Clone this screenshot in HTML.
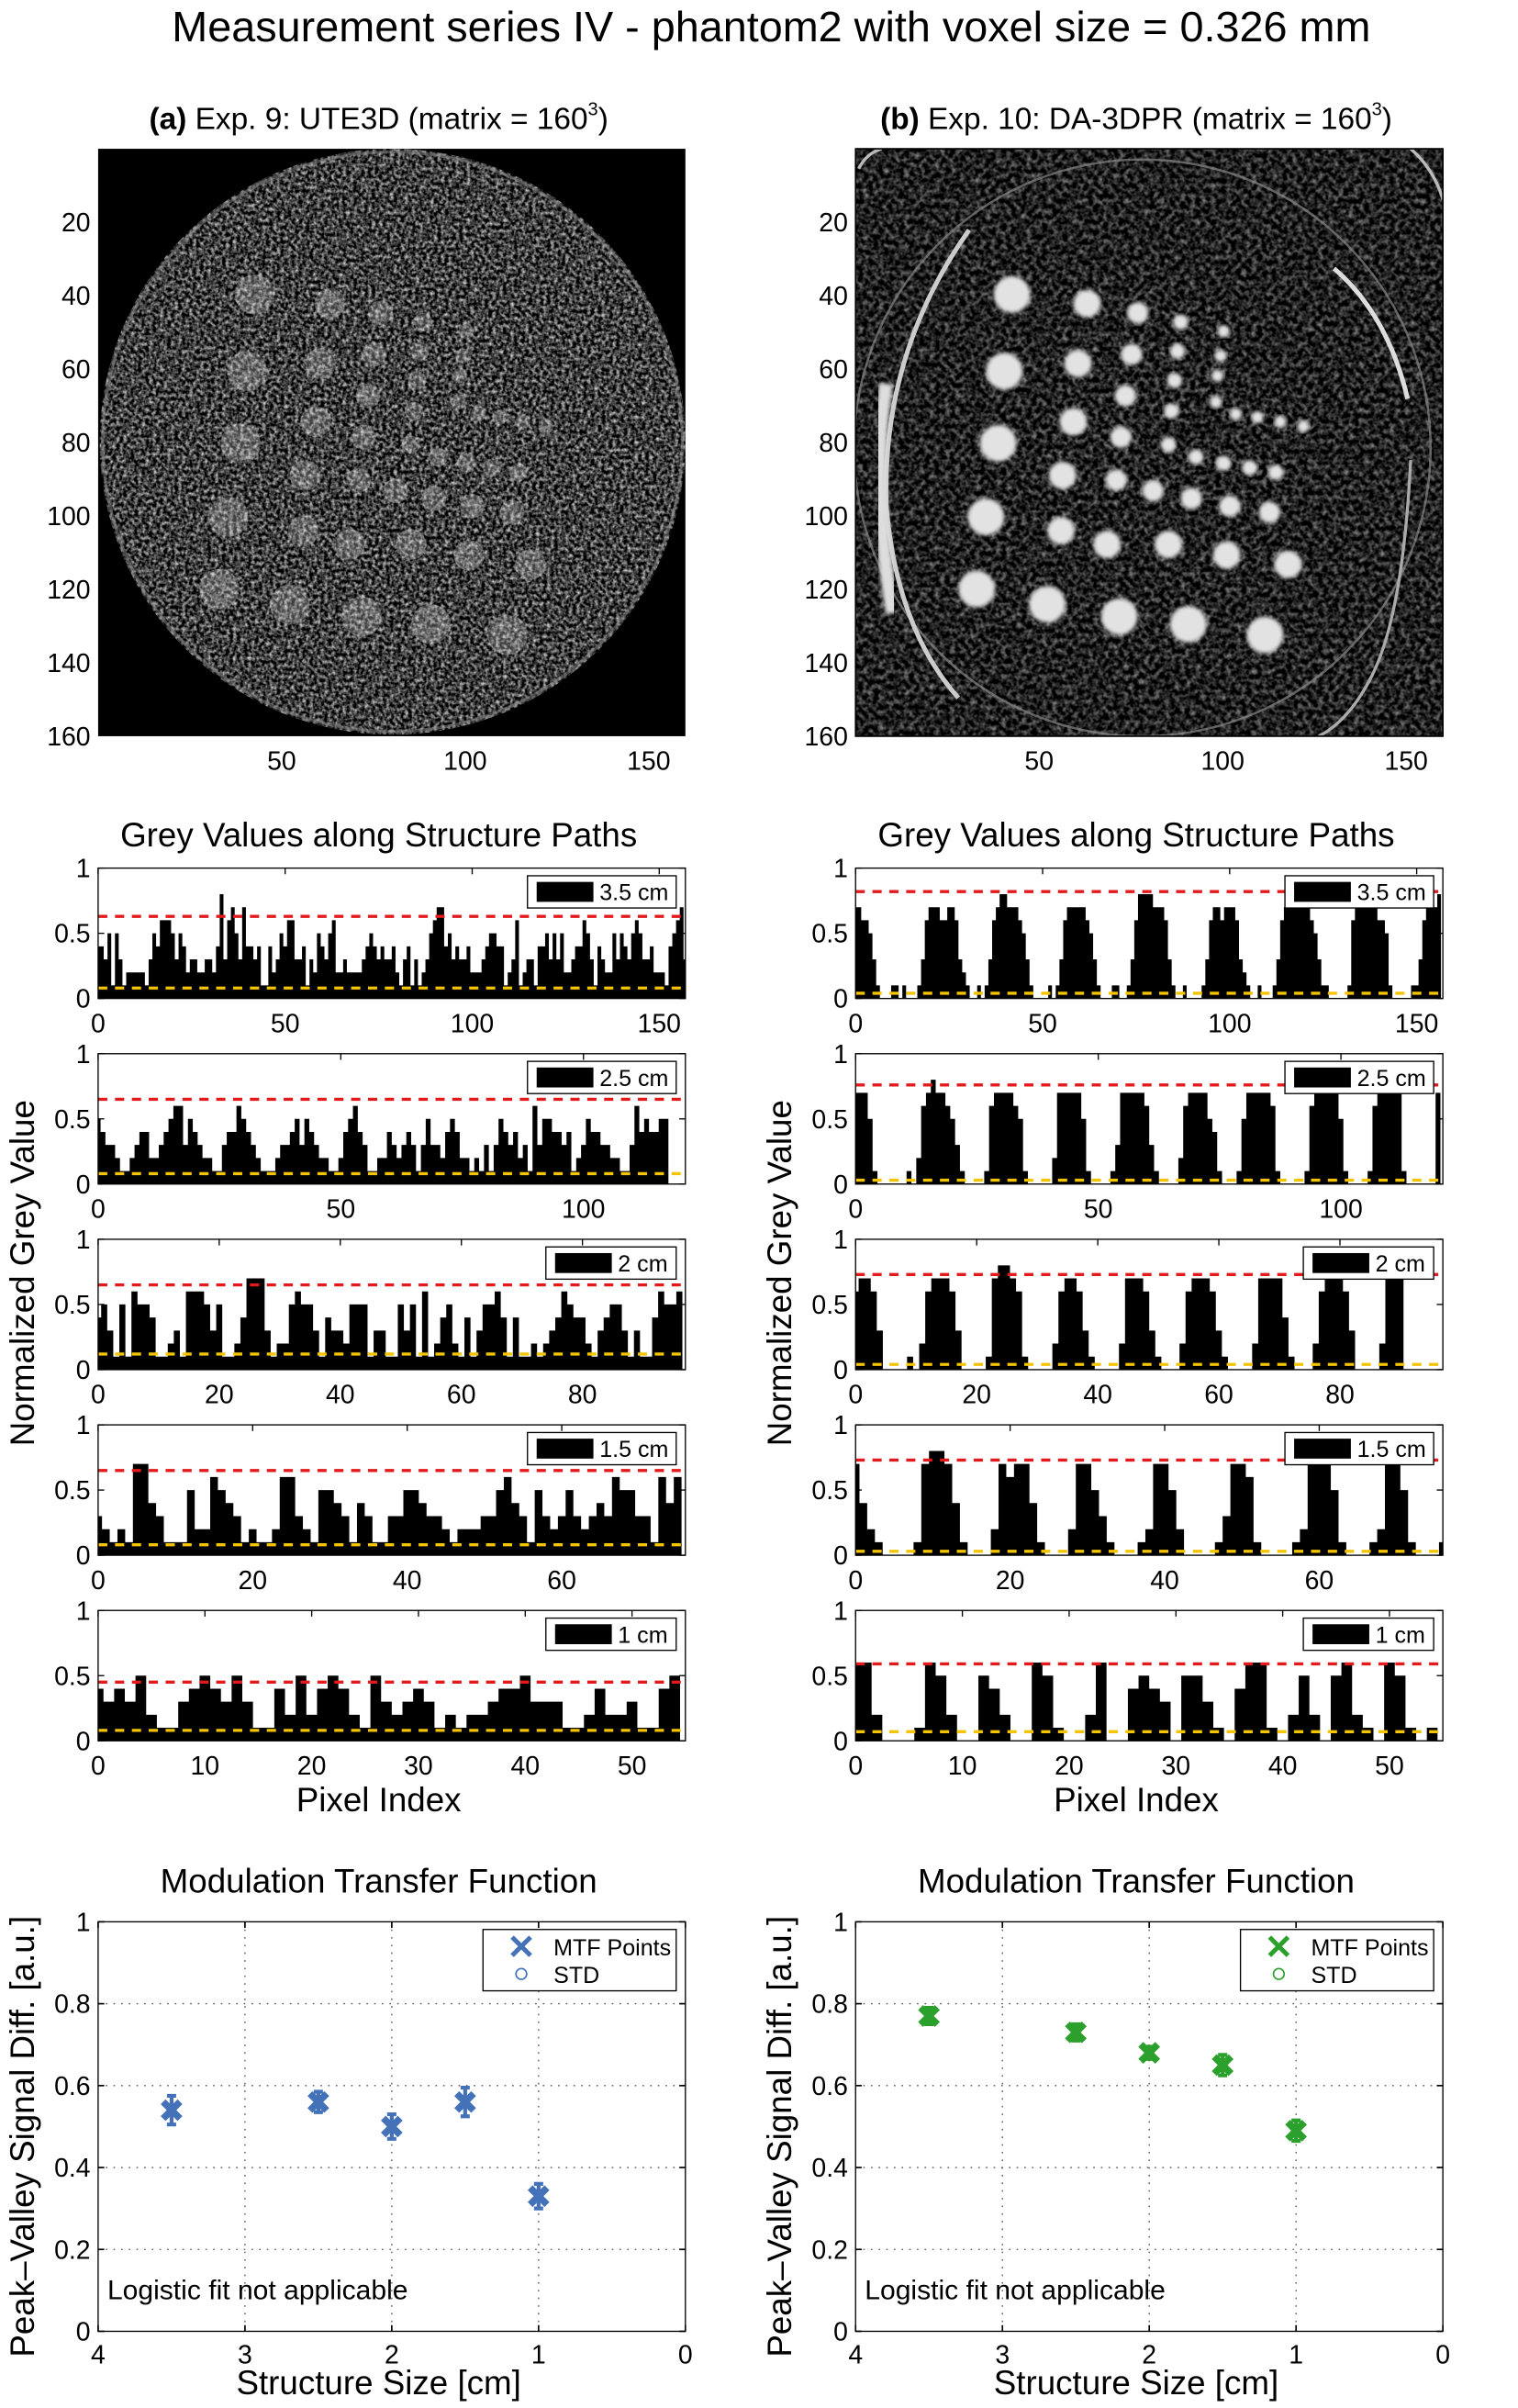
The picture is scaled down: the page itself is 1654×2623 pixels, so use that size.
<!DOCTYPE html>
<html><head><meta charset="utf-8">
<style>
html,body{margin:0;padding:0;background:#fff;}
svg{display:block;font-family:"Liberation Sans",sans-serif;}
</style></head>
<body>
<svg id="fig" xmlns="http://www.w3.org/2000/svg" width="1654" height="2623" viewBox="0 0 990 1570">
<defs>
<filter id="noiseA" x="0" y="0" width="100%" height="100%" color-interpolation-filters="sRGB">
<feTurbulence type="fractalNoise" baseFrequency="0.42" numOctaves="2" seed="3"/>
<feColorMatrix type="matrix" values="1.5 0 0 0 -0.5  1.5 0 0 0 -0.5  1.5 0 0 0 -0.5  0 0 0 0 1"/>
</filter>
<filter id="noiseB" x="0" y="0" width="100%" height="100%" color-interpolation-filters="sRGB">
<feTurbulence type="fractalNoise" baseFrequency="0.3" numOctaves="2" seed="7"/>
<feColorMatrix type="matrix" values="1.0 0 0 0 -0.37  1.0 0 0 0 -0.37  1.0 0 0 0 -0.37  0 0 0 0 1"/>
</filter>
<filter id="blur1"><feGaussianBlur stdDeviation="1.2"/></filter>
<clipPath id="discA"><circle cx="256" cy="288" r="191"/></clipPath>
<clipPath id="imgB"><rect x="558" y="97" width="383" height="383"/></clipPath>
</defs>
<text x="503" y="27" font-size="28" text-anchor="middle">Measurement series IV - phantom2 with voxel size = 0.326 mm</text>
<g id="root"></g>
</svg>
<script>
// ---------- data ----------
const gvCategories = ["3.5 cm","2.5 cm","2 cm","1.5 cm","1 cm"];
const gvXMax = [157,121,97,76,55];
const gvTicks = [[0,50,100,150],[0,50,100],[0,20,40,60,80],[0,20,40,60],[0,10,20,30,40,50]];
const leftValues = [
"4435153122222135466653542332233248367537443411423546633413254356223222234543433421341312356774534334222345544123612331445353522344653143225354356533422214567354534",
"5433211234422345663543221134465432111233453543221124564311224323431353324542212131354342316355443412354433221136454455",
"4531516554112316665351124777312256553143325551331153516124521413556414112123465442134553131146556",
"3212177431115226543121126632155431431133554332122233564315323532343655331646",
"4343521134543531142524542153234312122344533311242231145"];
const rightValues = [
"7766531000110100013677766776321001013678877765310000101367777765310001100136888877763100100001367767776321001000136777777765311000001677777766510000011367778",
"7775100000010267877653100001677776510000027777751000013777776310000267777541000157777761000001677777510000167777710000007",
"6776300001026777630000178876100002677631000027776310002677763100002777741000267776300002777",
"7421000017887410002767741000277531000127752000013776100001277751000127751000172",
"6620001652005420065100260045430553104661025205621065101"];
const redLeft = [0.63,0.65,0.65,0.65,0.45];
const yelLeft = [0.08,0.08,0.12,0.08,0.08];
const redRight = [0.82,0.76,0.73,0.73,0.59];
const yelRight = [0.04,0.03,0.04,0.03,0.07];
const mtfSizes = [3.5,2.5,2,1.5,1];
const mtfLeft = [0.54,0.56,0.50,0.56,0.33];
const mtfLeftStd = [0.035,0.025,0.03,0.035,0.03];
const mtfRight = [0.77,0.73,0.68,0.65,0.49];
const mtfRightStd = [0.02,0.02,0.015,0.025,0.025];
const imgTicksY = [20,40,60,80,100,120,140,160];
const imgTicksX = [50,100,150];
const mtfYTicks = [0,0.2,0.4,0.6,0.8,1];
const mtfXTicks = [4,3,2,1,0];

const NS="http://www.w3.org/2000/svg";
const root=document.getElementById('root');
function mk(tag,attrs,parent,txt){const e=document.createElementNS(NS,tag);for(const k in attrs)e.setAttribute(k,attrs[k]);if(txt!==undefined)e.textContent=txt;(parent||root).appendChild(e);return e;}

// ---------- images ----------
function imageAxes(x0,title,side){
  const g=mk('g',{});
  
  
  const sc=383/160;
  const t=mk('text',{x:x0+183,y:84,'font-size':20,'text-anchor':'middle'},g);
  t.innerHTML=title;
  
  
  imgTicksY.forEach(v=>{const l=mk('text',{x:x0-5,y:97+v*sc+6,'font-size':17,'text-anchor':'end'},g,String(v));
    });
  imgTicksX.forEach(v=>{const l=mk('text',{x:x0+v*sc,y:502,'font-size':17,'text-anchor':'middle'},g,String(v));
    });
  return g;
}
const spotsX=[660,655,651,643,637,683,730,775,825, 709,703,700,693,692,722,762,800,840, 742,738,734,731,728,752,777,802,828, 770,768,766,764,762,780,798,815,832, 798,796,794,793,806,820,835,850];
const spotsY=[192,242,289,337,384,394,402,407,414, 198,237,275,310,346,355,355,362,368, 204,231,258,285,313,320,325,330,334, 210,229,248,268,290,298,302,305,308, 216,232,245,262,270,272,275,278];
const spotsR=[12,12,12,12,12,12,12,12,12, 9,9,9,9,9,9,9,9,9, 7,7,7,7,7,7,7,7,7, 5,5,5,5,5,5,5,5,5, 4,4,4,4,4,4,4,4];
// left image
{
  const g=imageAxes(64,'<tspan font-weight="bold">(a)</tspan> Exp. 9: UTE3D (matrix = 160<tspan font-size="12" dy="-9">3</tspan><tspan dy="9">)</tspan>','a');
  const r=mk('rect',{x:64,y:97,width:383,height:383,fill:'#000'},g);
  
  const n=mk('rect',{x:64,y:97,width:383,height:383,filter:'url(#noiseA)','clip-path':'url(#discA)'},g);
  
  mk('circle',{cx:256,cy:288,r:189,fill:'none',stroke:'#888','stroke-width':2,opacity:0.5},g);
  spotsX.forEach((x,i)=>{const c=mk('circle',{cx:x-494,cy:spotsY[i],r:spotsR[i]+1,fill:'#fff',opacity:0.25},g);
    });
}
// right image
{
  const g=imageAxes(558,'<tspan font-weight="bold">(b)</tspan> Exp. 10: DA-3DPR (matrix = 160<tspan font-size="12" dy="-9">3</tspan><tspan dy="9">)</tspan>','b');
  const n=mk('rect',{x:558,y:97,width:383,height:383,filter:'url(#noiseB)'},g);
  
  const cg=mk('g',{'clip-path':'url(#imgB)'},g);
  mk('circle',{cx:745,cy:292,r:188,fill:'none',stroke:'#888','stroke-width':1.5,opacity:0.7},cg);
  mk('path',{d:'M632,150 Q575,230 578,330 Q585,410 625,455',fill:'none',stroke:'#ccc','stroke-width':3},cg);
  mk('path',{d:'M578,250 Q568,310 582,400',fill:'none',stroke:'#ddd','stroke-width':9,filter:'url(#blur1)'},cg);
  mk('path',{d:'M870,175 Q905,205 918,260',fill:'none',stroke:'#ddd','stroke-width':3},cg);
  mk('path',{d:'M920,300 Q915,400 895,440 Q880,470 860,480',fill:'none',stroke:'#aaa','stroke-width':2},cg);
  mk('path',{d:'M560,110 Q565,100 575,97',fill:'none',stroke:'#bbb','stroke-width':2},cg);
  mk('path',{d:'M920,97 Q935,110 941,130',fill:'none',stroke:'#bbb','stroke-width':2},cg);
  spotsX.forEach((x,i)=>{const c=mk('circle',{cx:x,cy:spotsY[i],r:spotsR[i],fill:'#e2e2e2',filter:'url(#blur1)'},cg);
    });
  mk('rect',{x:558,y:97,width:383,height:383,fill:'none',stroke:'#000','stroke-width':1},g);
}

// ---------- grey value panels ----------
const panelTops=[566,687,808,929,1050];
function barPanel(x0,idx,vals,red,yel,side){
  const x1=x0+383, yt=panelTops[idx], yb=yt+85;
  const xmax=gvXMax[idx];
  const sx=v=>x0+v/xmax*383, sy=v=>yb-v*85;
  const g=mk('g',{});
  
  
  const arr=vals.split('').map(c=>+c/10);
  let d='';
  arr.forEach((v,i)=>{if(i>xmax)return;const a=Math.max(x0,sx(i-0.5)),b=Math.min(x1,sx(i+0.5));d+=`M${a},${yb}V${sy(v)}H${b}V${yb}Z`;});
  const bars=mk('path',{d:d,fill:'#000'},g);
  
  const rl=mk('line',{x1:x0,x2:x1,y1:sy(red),y2:sy(red),stroke:'#e31a1c','stroke-width':2,'stroke-dasharray':'6,5'},g);
  
  const yl=mk('line',{x1:x0,x2:x1,y1:sy(yel),y2:sy(yel),stroke:'#f5c400','stroke-width':2,'stroke-dasharray':'6,5'},g);
  
  mk('rect',{x:x0,y:yt,width:383,height:85,fill:'none',stroke:'#000','stroke-width':0.8},g);
  [0,0.5,1].forEach(v=>{const t=mk('text',{x:x0-5,y:sy(v)+6,'font-size':17,'text-anchor':'end'},g,String(v));
    
    mk('line',{x1:x0,x2:x0+4,y1:sy(v),y2:sy(v),stroke:'#000','stroke-width':0.8},g);
    mk('line',{x1:x1,x2:x1-4,y1:sy(v),y2:sy(v),stroke:'#000','stroke-width':0.8},g);});
  gvTicks[idx].forEach(v=>{const t=mk('text',{x:sx(v),y:yb+22,'font-size':17,'text-anchor':'middle'},g,String(v));
    
    mk('line',{x1:sx(v),x2:sx(v),y1:yt,y2:yt+4,stroke:'#000','stroke-width':0.8},g);});
  const lab=gvCategories[idx];
  const w=lab.length>4?97:85;
  const lg=mk('g',{},g);
  
  mk('rect',{x:x1-6-w,y:yt+5,width:w,height:21,fill:'#fff',stroke:'#000','stroke-width':0.8},lg);
  mk('rect',{x:x1-6-w+6,y:yt+9,width:37,height:13,fill:'#000'},lg);
  mk('text',{x:x1-6-w+47,y:yt+21,'font-size':15},lg,lab);
}
[[64,leftValues,redLeft,yelLeft,'left'],[558,rightValues,redRight,yelRight,'right']].forEach(([x0,vals,red,yel,side])=>{
  const t=mk('text',{x:x0+183,y:552,'font-size':22,'text-anchor':'middle'},root,'Grey Values along Structure Paths');
  
  for(let i=0;i<5;i++)barPanel(x0,i,vals[i],red[i],yel[i],side);
  const xl=mk('text',{x:x0+183,y:1181,'font-size':22,'text-anchor':'middle'},root,'Pixel Index');
  
  const yl=mk('text',{x:0,y:0,'font-size':22,'text-anchor':'middle',transform:`translate(${x0-42},830) rotate(-90)`},root,'Normalized Grey Value');
  
});

// ---------- MTF ----------
function xMarker(g,x,y,s,col,w){mk('path',{d:`M${x-s},${y-s}L${x+s},${y+s}M${x-s},${y+s}L${x+s},${y-s}`,stroke:col,'stroke-width':w,fill:'none'},g);}
function mtfPanel(x0,vals,stds,col,side){
  const x1=x0+383, yt=1253, yb=1520;
  const sx=v=>x0+(4-v)/4*383, sy=v=>yb-v*(yb-yt);
  const g=mk('g',{});
  
  const t=mk('text',{x:x0+183,y:1234,'font-size':22,'text-anchor':'middle'},g,'Modulation Transfer Function');
  
  mtfYTicks.forEach(v=>{if(v>0&&v<1)mk('line',{x1:x0,x2:x1,y1:sy(v),y2:sy(v),stroke:'#555','stroke-width':0.8,'stroke-dasharray':'1,4'},g);
    mk('line',{x1:x0,x2:x0+4,y1:sy(v),y2:sy(v),stroke:'#000'},g);mk('line',{x1:x1,x2:x1-4,y1:sy(v),y2:sy(v),stroke:'#000'},g);
    const l=mk('text',{x:x0-5,y:sy(v)+6,'font-size':17,'text-anchor':'end'},g,String(v));
    });
  mtfXTicks.forEach(v=>{if(v>0&&v<4)mk('line',{x1:sx(v),x2:sx(v),y1:yt,y2:yb,stroke:'#555','stroke-width':0.8,'stroke-dasharray':'1,4'},g);
    mk('line',{x1:sx(v),x2:sx(v),y1:yt,y2:yt+4,stroke:'#000'},g);mk('line',{x1:sx(v),x2:sx(v),y1:yb,y2:yb-4,stroke:'#000'},g);
    const l=mk('text',{x:sx(v),y:yb+21,'font-size':17,'text-anchor':'middle'},g,String(v));
    });
  mk('rect',{x:x0,y:yt,width:383,height:yb-yt,fill:'none',stroke:'#000','stroke-width':0.8},g);
  mtfSizes.forEach((s,i)=>{
    const pg=mk('g',{},g);
    
    const x=sx(s),y=sy(vals[i]),e1=sy(vals[i]+stds[i]),e2=sy(vals[i]-stds[i]);
    mk('path',{d:`M${x},${e1}V${e2}M${x-3},${e1}H${x+3}M${x-3},${e2}H${x+3}`,stroke:col,'stroke-width':2.5,fill:'none'},pg);
    xMarker(pg,x,y,5.5,col,4.5);
  });
  const lg=mk('g',{},g);
  
  mk('rect',{x:x1-132,y:1258,width:126,height:40,fill:'#fff',stroke:'#000','stroke-width':0.8},lg);
  xMarker(lg,x1-107,1269,6,col,3);
  mk('circle',{cx:x1-107,cy:1287,r:3.5,fill:'none',stroke:col,'stroke-width':1},lg);
  mk('text',{x:x1-86,y:1275,'font-size':15},lg,'MTF Points');
  mk('text',{x:x1-86,y:1293,'font-size':15},lg,'STD');
  const n=mk('text',{x:x0+6,y:1499,'font-size':18},g,'Logistic fit not applicable');
  
  const xl=mk('text',{x:x0+183,y:1561,'font-size':22,'text-anchor':'middle'},g,'Structure Size [cm]');
  
  const yl=mk('text',{x:0,y:0,'font-size':22,'text-anchor':'middle',transform:`translate(${x0-42},1393) rotate(-90)`},g,'Peak\u2013Valley Signal Diff. [a.u.]');
  
}
mtfPanel(64,mtfLeft,mtfLeftStd,'#4472b8','left');
mtfPanel(558,mtfRight,mtfRightStd,'#2ca02c','right');
</script>
</body></html>
